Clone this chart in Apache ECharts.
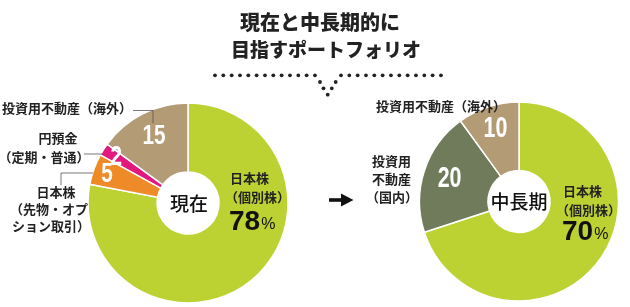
<!DOCTYPE html>
<html><head><meta charset="utf-8">
<script src="https://cdn.jsdelivr.net/npm/echarts@6/dist/echarts.min.js"></script>
<style>html,body{margin:0;padding:0;background:#fff}#c{width:630px;height:307px}</style>
</head><body><div id="c"></div>
<script>
// ---- data ----
const titleLines = ['現在と中長期的に', '目指すポートフォリオ'];
const leftCenterLabel = '現在';
const rightCenterLabel = '中長期';
const leftNames = ['日本株（個別株）', '日本株（先物・オプション取引）', '円預金（定期・普通）', '投資用不動産（海外）'];
const leftValues = [78, 5, 2, 15];
const rightNames = ['日本株（個別株）', '投資用不動産（国内）', '投資用不動産（海外）'];
const rightValues = [70, 20, 10];

// ---- styles ----
const leftColors = ['#bcd232', '#ef8a28', '#e2187c', '#b39b76'];
const rightColors = ['#bcd232', '#6f7b5b', '#b39b76'];
const leftLabelR = [0, 86, 85, 75];
const rightLabelR = [0, 73, 76];
const LC = [188, 203], RC = [519, 201.5];
const CJK = '"Noto Sans CJK JP", "Noto Sans CJK SC", sans-serif';
const NUM = '"Liberation Sans", Arial, sans-serif';

function buildData(names, values, colors) {
  return values.map((v, i) => ({ name: names[i], value: v, itemStyle: { color: colors[i] } }));
}

const g = [];
function add(el) { el.z = 100; g.push(el); }
// title
add({ type: 'text', x: 320, y: 22, style: { text: titleLines[0], font: '900 20px ' + CJK, fill: '#222', textAlign: 'center', textVerticalAlign: 'middle' } });
add({ type: 'text', x: 326, y: 50, style: { text: titleLines[1], font: '900 19px ' + CJK, fill: '#222', textAlign: 'center', textVerticalAlign: 'middle' } });
// dotted line with V
const dots = [];
for (let i = 0; i < 13; i++) dots.push([215 + i * 8.33, 75.3]);
for (let i = 0; i < 13; i++) dots.push([341 + i * 8.33, 75.3]);
dots.push([320, 82], [323.5, 88.3], [327.7, 94.7], [331.8, 88.3], [335.7, 82]);
dots.forEach(d => add({ type: 'circle', shape: { cx: d[0], cy: d[1], r: 1.9 }, style: { fill: '#222' } }));
// arrow
add({ type: 'rect', shape: { x: 329, y: 198.2, width: 14, height: 3.6 }, style: { fill: '#111' } });
add({ type: 'polygon', shape: { points: [[341, 193.5], [353.5, 200], [341, 206.5]] }, style: { fill: '#111' } });

function txt(text, x, y, size, align, weight, color, font) {
  add({ type: 'text', x: x, y: y, style: { text: text, font: (weight || 'bold') + ' ' + size + 'px ' + (font || CJK), fill: color || '#222', textAlign: align || 'left', textVerticalAlign: 'middle' } });
}
function line(points) {
  add({ type: 'polyline', shape: { points: points }, style: { stroke: '#555', lineWidth: 0.8, fill: null } });
}
// slice value labels placed along each slice's mid angle
function sliceLabels(values, center, radii, size) {
  const total = values.reduce((a, b) => a + b, 0);
  let acc = 0;
  values.forEach((v, i) => {
    const mid = (acc + v / 2) / total * 2 * Math.PI;
    acc += v;
    if (i === 0) return;
    const x = center[0] + radii[i] * Math.sin(mid);
    const y = center[1] - radii[i] * Math.cos(mid);
    add({ type: 'text', x: x, y: y, scaleX: 0.74, style: { text: String(v), font: 'bold ' + size + 'px ' + NUM, fill: '#fff', textAlign: 'center', textVerticalAlign: 'middle' } });
  });
}
sliceLabels(leftValues, LC, leftLabelR, 28);
sliceLabels(rightValues, RC, rightLabelR, 29);

// left chart outer labels
txt('投資用不動産（海外）', 2, 108, 13);
line([[133, 110.5], [153, 110.5], [153, 123]]);
txt('円預金', 58, 138, 13, 'center');
txt('（定期・普通）', 44, 157, 13, 'center');
line([[84, 154], [103, 154]]);
txt('日本株', 56, 192, 13, 'center');
txt('（先物・オプ', 49, 209, 13, 'center');
txt('ション取引）', 51, 226, 13, 'center');
line([[61, 185], [61, 173], [93, 173]]);
// left green label
txt('日本株', 230, 178, 13);
txt('（個別株）', 225, 197.5, 13);
function pct(v, x, y) {
  add({ type: 'text', x: x, y: y, style: { text: '{b|' + v + '}{p|%}', textVerticalAlign: 'middle', rich: { b: { font: 'bold 28px ' + NUM, fill: '#111' }, p: { font: '16px ' + NUM, fill: '#111', padding: [6, 0, 0, 1] } } } });
}
pct(leftValues[0], 229, 222);
// centers
txt(leftCenterLabel, 189, 204, 19, 'center', '500', '#111');
txt(rightCenterLabel, 519, 202, 19, 'center', '500', '#111');
// right chart outer labels
txt('投資用不動産（海外）', 376, 106, 13);
txt('投資用', 372, 161, 13);
txt('不動産', 372, 179, 13);
txt('（国内）', 366, 197.5, 13);
txt('日本株', 563, 191.5, 13);
txt('（個別株）', 556, 210, 13);
pct(rightValues[0], 562, 232);

const chart = echarts.init(document.getElementById('c'));
chart.setOption({
  animation: false,
  series: [
    { type: 'pie', center: LC, radius: [31, 100], startAngle: 90, clockwise: true,
      itemStyle: { borderColor: '#fff', borderWidth: 1.5 }, label: { show: false }, labelLine: { show: false },
      emphasis: { disabled: true }, data: buildData(leftNames, leftValues, leftColors) },
    { type: 'pie', center: RC, radius: [31, 99.5], startAngle: 90, clockwise: true,
      itemStyle: { borderColor: '#fff', borderWidth: 1.5 }, label: { show: false }, labelLine: { show: false },
      emphasis: { disabled: true }, data: buildData(rightNames, rightValues, rightColors) }
  ],
  graphic: g
});
</script></body></html>
